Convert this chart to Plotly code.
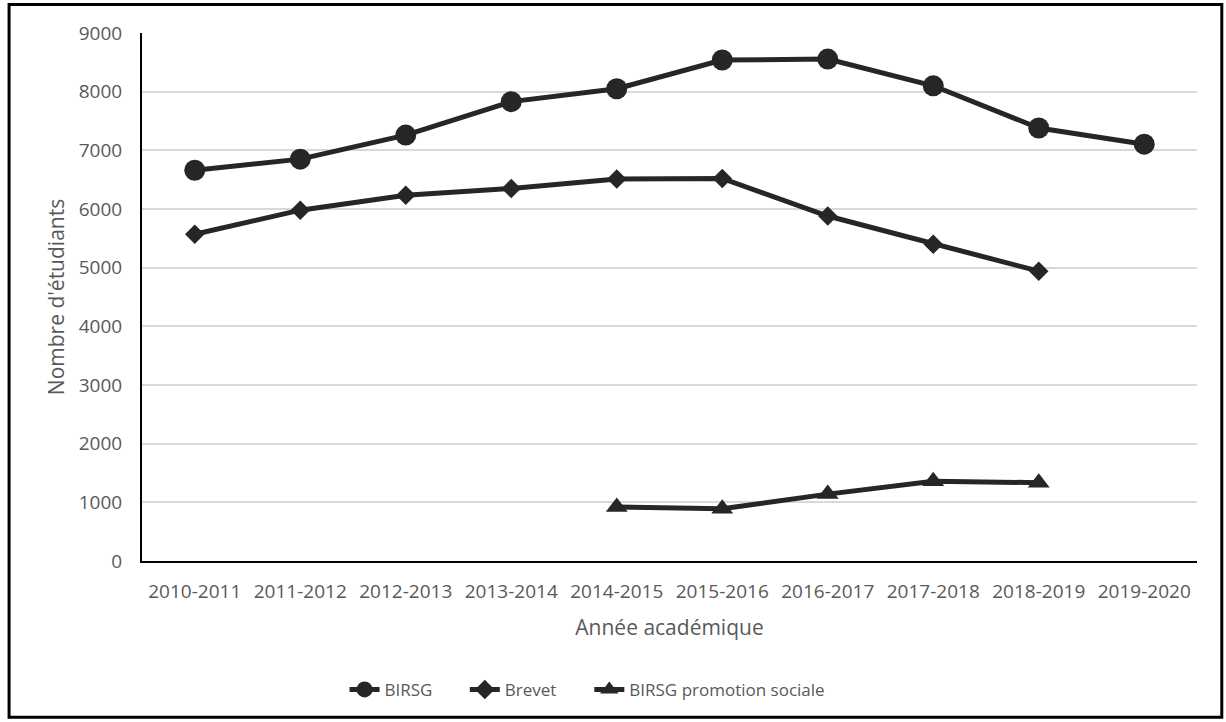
import plotly.graph_objects as go

years = ["2010-2011", "2011-2012", "2012-2013", "2013-2014", "2014-2015",
         "2015-2016", "2016-2017", "2017-2018", "2018-2019", "2019-2020"]
birsg = [6660, 6850, 7260, 7830, 8050, 8540, 8555, 8100, 7380, 7105]
brevet = [5570, 5980, 6235, 6350, 6510, 6520, 5880, 5400, 4940, None]
promo = [None, None, None, None, 920, 890, 1140, 1360, 1335, None]

series = [
    ("BIRSG", birsg, "circle", 21, "legend", 0.192),
    ("Brevet", brevet, "diamond", 15, "legend2", 0.306),
    ("BIRSG promotion sociale", promo, "triangle-up", 19, "legend3", 0.424),
]

fig = go.Figure()
legends = {}
for name, vals, sym, sz, leg, lx in series:
    fig.add_trace(go.Scatter(
        x=years, y=vals, name=name, mode="lines+markers",
        line=dict(color="#262626", width=5),
        marker=dict(symbol=sym, size=sz, color="#262626"),
        connectgaps=False, legend=leg,
    ))
    legends[leg] = dict(orientation="h", x=lx, xanchor="left", y=-0.244, yanchor="middle",
                        font=dict(size=17, color="#595959"), bgcolor="rgba(0,0,0,0)")

font_fam = "Open Sans, Liberation Sans, sans-serif"
fig.update_layout(
    width=1226, height=722,
    margin=dict(l=142, r=29, t=33, b=161),
    paper_bgcolor="white", plot_bgcolor="white",
    font=dict(family=font_fam, color="#595959", size=17),
    showlegend=True,
    xaxis=dict(
        type="category", range=[-0.5, 9.5],
        showline=True, linecolor="black", linewidth=2,
        showgrid=False, ticks="", tickfont=dict(size=19, color="#595959"),
        ticklabelstandoff=12,
        title=dict(text="Année académique", font=dict(size=21, color="#595959"), standoff=18),
    ),
    yaxis=dict(
        range=[0, 9000], dtick=1000,
        showline=True, linecolor="black", linewidth=2,
        showgrid=True, gridcolor="#d9d9d9", gridwidth=2, zeroline=False,
        ticks="", tickfont=dict(size=19, color="#595959"), ticklabelstandoff=14,
        title=dict(text="Nombre d'étudiants", font=dict(size=21, color="#595959"), standoff=8),
    ),
    shapes=[dict(type="rect", xref="paper", yref="paper",
                 x0=-0.126, x1=1.0235, y0=-0.296, y1=1.054,
                 line=dict(color="black", width=3), fillcolor="rgba(0,0,0,0)", layer="below")],
    **legends,
)

fig.write_html("out.html")
